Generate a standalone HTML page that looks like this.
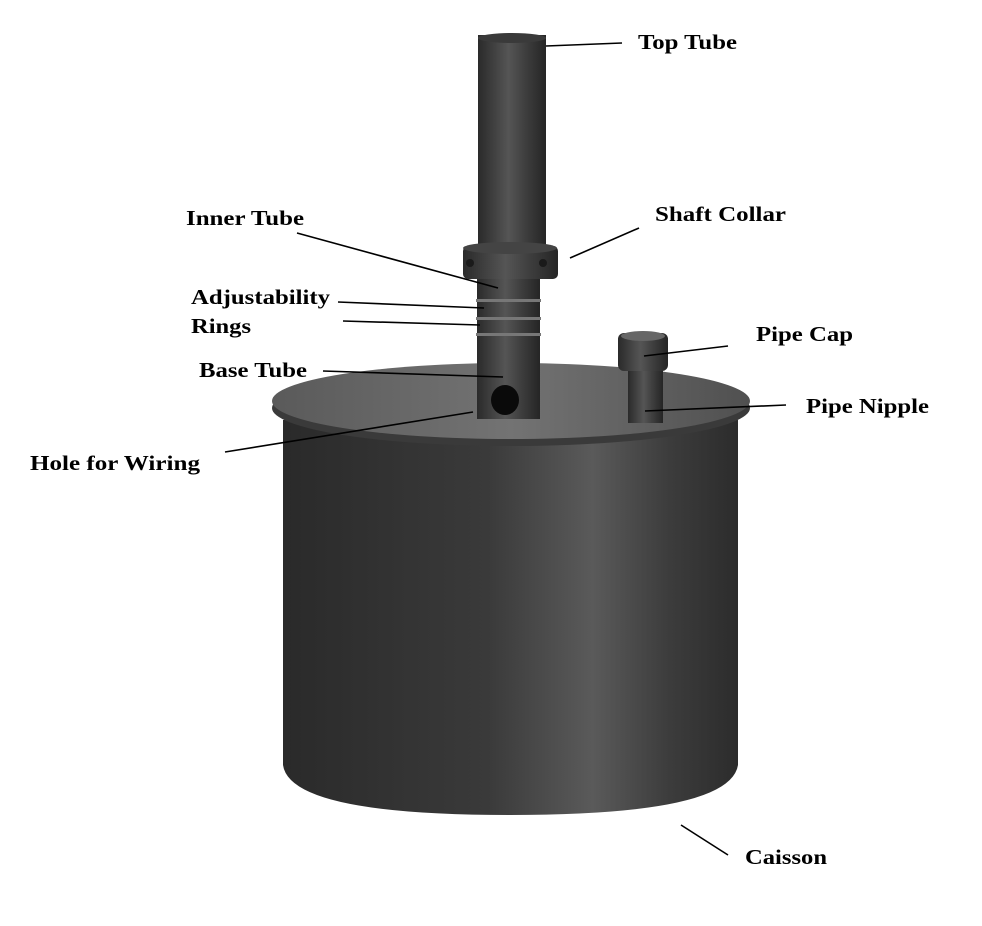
<!DOCTYPE html>
<html><head><style>
html,body{margin:0;padding:0;background:#fff;width:982px;height:926px;overflow:hidden}
svg{display:block}
text{font-family:"Liberation Serif",serif;font-weight:bold;font-size:21px;fill:#000}
</style></head><body>
<svg width="982" height="926" viewBox="0 0 982 926">
<defs>
<linearGradient id="body" x1="0" x2="1">
<stop offset="0" stop-color="#2a2a2a"/><stop offset="0.45" stop-color="#3a3a3a"/><stop offset="0.68" stop-color="#5a5a5a"/><stop offset="0.85" stop-color="#3c3c3c"/><stop offset="1" stop-color="#2c2c2c"/>
</linearGradient>
<linearGradient id="lid" x1="0" x2="1">
<stop offset="0" stop-color="#5a5a5a"/><stop offset="0.5" stop-color="#737373"/><stop offset="1" stop-color="#505050"/>
</linearGradient>
<linearGradient id="tube" x1="0" x2="1">
<stop offset="0" stop-color="#2a2a2a"/><stop offset="0.45" stop-color="#555"/><stop offset="0.7" stop-color="#3e3e3e"/><stop offset="1" stop-color="#252525"/>
</linearGradient>
</defs>
<!-- body -->
<path d="M283 420 L283 765 Q290 815 510 815 Q730 815 738 765 L738 420 Z" fill="url(#body)"/>
<!-- lid rim -->
<ellipse cx="511" cy="408" rx="239" ry="38" fill="#3a3a3a"/>
<ellipse cx="511" cy="401" rx="239" ry="38" fill="url(#lid)"/>
<!-- top tube -->
<rect x="478" y="35" width="68" height="215" fill="url(#tube)"/>
<ellipse cx="512" cy="38" rx="34" ry="5" fill="#3a3a3a"/>
<!-- collar -->
<rect x="463" y="246" width="95" height="33" rx="5" fill="url(#tube)"/>
<ellipse cx="510" cy="248" rx="47" ry="6" fill="#444"/>
<circle cx="470" cy="263" r="4" fill="#1a1a1a"/><circle cx="543" cy="263" r="4" fill="#1a1a1a"/>
<!-- inner tube with rings -->
<rect x="477" y="279" width="63" height="140" fill="url(#tube)"/>
<rect x="476" y="299" width="65" height="3" fill="#777"/>
<rect x="476" y="317" width="65" height="3" fill="#777"/>
<rect x="476" y="333" width="65" height="3" fill="#777"/>
<ellipse cx="505" cy="400" rx="14" ry="15" fill="#0a0a0a"/>
<!-- pipe cap / nipple -->
<rect x="628" y="365" width="35" height="58" fill="url(#tube)"/>
<rect x="618" y="333" width="50" height="38" rx="6" fill="url(#tube)"/>
<ellipse cx="643" cy="336" rx="22" ry="5" fill="#666"/>
<!-- leader lines -->
<g stroke="#000" stroke-width="1.6">
<line x1="546" y1="46" x2="622" y2="43"/>
<line x1="297" y1="233" x2="498" y2="288"/>
<line x1="338" y1="302" x2="484" y2="308"/>
<line x1="343" y1="321" x2="480" y2="325"/>
<line x1="323" y1="371" x2="503" y2="377"/>
<line x1="225" y1="452" x2="473" y2="412"/>
<line x1="570" y1="258" x2="639" y2="228"/>
<line x1="644" y1="356" x2="728" y2="346"/>
<line x1="645" y1="411" x2="786" y2="405"/>
<line x1="681" y1="825" x2="728" y2="855"/>
</g>
<text x="638" y="49" textLength="99" lengthAdjust="spacingAndGlyphs">Top Tube</text>
<text x="186" y="225" textLength="118" lengthAdjust="spacingAndGlyphs">Inner Tube</text>
<text x="655" y="221" textLength="131" lengthAdjust="spacingAndGlyphs">Shaft Collar</text>
<text x="191" y="304" textLength="139" lengthAdjust="spacingAndGlyphs">Adjustability</text>
<text x="191" y="333" textLength="60" lengthAdjust="spacingAndGlyphs">Rings</text>
<text x="756" y="341" textLength="97" lengthAdjust="spacingAndGlyphs">Pipe Cap</text>
<text x="199" y="377" textLength="108" lengthAdjust="spacingAndGlyphs">Base Tube</text>
<text x="806" y="413" textLength="123" lengthAdjust="spacingAndGlyphs">Pipe Nipple</text>
<text x="30" y="470" textLength="170" lengthAdjust="spacingAndGlyphs">Hole for Wiring</text>
<text x="745" y="864" textLength="82" lengthAdjust="spacingAndGlyphs">Caisson</text>
</svg>
</body></html>
